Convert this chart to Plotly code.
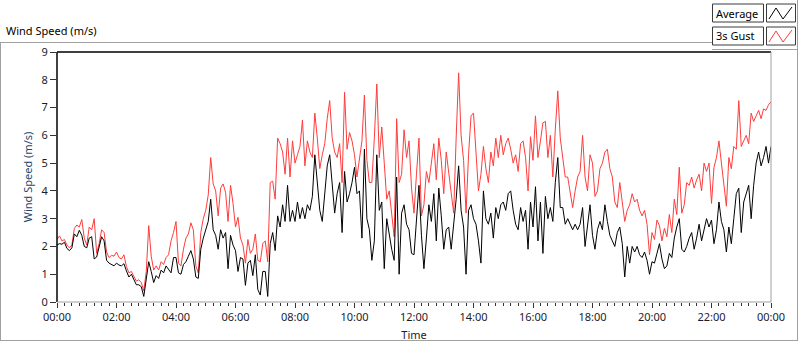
import pandas as pd
import plotly.graph_objects as go

# ---- data (5-minute samples) ----
series_names = ["Average", "3s Gust"]
chart_title = "Wind Speed (m/s)"
x_title = "Time"
y_title = "Wind Speed (m/s)"

average = [
    2.05, 2.1, 2.08, 2.15, 1.93, 1.85, 1.95, 2.45, 2.35, 2.58, 2.4, 2.0,
    1.95, 2.3, 2.35, 1.55, 1.62, 2.0, 2.35, 2.2, 1.5, 1.4, 1.35, 1.3,
    1.4, 1.33, 1.3, 1.38, 1.12, 0.9, 1.0, 0.78, 0.62, 0.62, 0.55, 0.2,
    0.75, 1.45, 1.1, 0.7, 0.95, 0.85, 1.15, 1.05, 1.3, 1.15, 1.05, 1.6,
    1.6, 1.05, 1.0, 1.35, 1.45, 1.65, 1.85, 1.55, 0.9, 0.85, 1.9, 2.3,
    2.6, 2.9, 3.7, 2.6, 2.4, 1.9, 2.6, 2.3, 2.5, 1.2, 2.4, 2.05,
    1.85, 1.1, 1.6, 1.55, 0.6, 1.4, 1.5, 0.95, 1.7, 0.45, 0.25, 1.1,
    1.1, 0.2, 2.1, 2.5, 1.85, 3.1, 2.7, 3.5, 2.9, 4.2, 2.9, 3.3,
    2.9, 3.6, 3.0, 3.4, 3.0, 3.5, 3.3, 3.8, 5.3, 4.2, 3.3, 2.9,
    3.9, 4.9, 5.3, 4.1, 3.2, 3.9, 4.3, 2.5, 4.7, 3.6, 3.9, 4.3,
    4.85, 3.9, 4.0, 2.3, 5.5, 3.0, 2.6, 1.5, 2.2, 5.3, 3.3, 3.6,
    1.2, 3.0, 2.4, 1.9, 1.5, 4.5, 1.0, 3.2, 3.5, 2.8, 2.6, 1.75,
    1.7, 2.9, 4.2, 2.4, 1.2, 2.3, 3.5, 2.9, 3.9, 2.2, 4.1, 3.1,
    1.9, 2.6, 2.7, 1.9, 2.7, 3.7, 4.9, 3.3, 2.7, 1.0, 3.3, 3.5,
    3.0, 2.8, 2.2, 1.4, 4.0, 3.0, 2.8, 3.2, 2.3, 3.4, 3.0, 3.5,
    3.6, 3.3, 3.9, 4.0, 3.3, 2.8, 2.6, 3.4, 2.9, 3.3, 1.9, 3.6,
    2.7, 4.15, 2.2, 3.6, 1.75, 3.8, 3.0, 3.4, 2.9, 4.3, 5.2, 3.4,
    3.4, 2.8, 3.0, 2.8, 2.6, 2.8, 2.6, 2.8, 3.4, 2.0, 2.8, 3.5,
    2.4, 1.9, 2.6, 2.9, 2.6, 3.5, 2.9, 2.4, 2.2, 2.0, 2.5, 2.7,
    2.1, 0.9, 2.0, 1.4, 2.0, 1.8, 2.0, 1.7, 1.6, 1.8, 1.5, 1.0,
    1.45, 1.4, 1.75, 2.1, 1.55, 1.2, 1.3, 1.75, 1.6, 2.3, 2.7, 3.0,
    1.9, 1.8, 2.0, 2.3, 2.5, 1.9, 2.3, 2.8, 2.2, 2.6, 3.0, 2.7,
    2.95, 2.1, 2.6, 3.6, 2.9, 2.6, 1.8, 2.7, 2.1, 3.0, 3.9, 4.1,
    2.5, 3.6, 3.9, 4.2, 3.0, 4.2, 5.0, 5.4, 4.9, 5.2, 5.6, 5.0,
    5.6,
]

gust = [
    2.25, 2.38, 2.2, 2.25, 2.05, 1.95, 2.05, 2.65, 2.77, 2.7, 2.97, 2.3,
    2.05, 2.7, 2.6, 3.0, 1.75, 2.1, 2.6, 2.5, 1.8, 1.6, 1.68, 1.65,
    1.8, 1.6, 1.55, 1.7, 1.28, 1.05, 1.1, 0.95, 0.75, 0.8, 0.7, 0.4,
    1.1, 2.75, 1.65, 1.15, 1.3, 1.15, 1.45, 1.35, 1.6, 1.7, 2.2, 2.5,
    2.9, 1.4, 1.3, 1.9, 2.3, 2.45, 2.85, 2.6, 1.3, 1.05, 2.5, 3.0,
    3.3, 3.85, 5.2, 4.25, 4.0, 3.1, 4.1, 4.25, 3.95, 2.9, 4.2, 3.55,
    2.7, 3.05, 2.3, 2.05, 1.4, 2.25, 1.75, 1.9, 2.45, 1.5, 1.45, 2.1,
    2.2, 1.45, 4.3, 4.35, 3.7, 5.9, 5.7, 5.4, 4.6, 5.9, 4.5, 5.8,
    5.0, 5.3, 5.6, 6.55, 4.9, 5.8, 5.4, 5.2, 6.8, 5.9, 4.8, 5.3,
    5.7, 6.6, 7.25, 5.9, 5.4, 5.2, 5.7, 4.3, 7.55, 5.5, 6.1, 5.8,
    5.3, 4.5, 5.1, 5.8, 7.45, 5.1, 4.3, 4.3, 5.9, 7.85, 5.2, 6.3,
    5.0, 3.7, 4.0, 3.2, 2.35, 6.6, 4.3, 4.6, 6.2, 5.2, 5.8, 4.1,
    3.2, 4.6, 5.9, 3.1, 3.5, 4.7, 4.3, 5.0, 5.7, 4.4, 5.9, 5.1,
    3.9, 5.4, 4.6, 3.8, 3.2, 5.9, 8.25, 6.0, 5.1, 3.2, 5.3, 6.7,
    6.8, 5.4, 4.0, 4.6, 5.6, 4.8, 4.3, 5.4, 4.9, 5.9, 5.2, 6.0,
    5.3, 5.7, 5.9, 5.5, 5.0, 5.3, 4.7, 5.7, 5.8, 5.2, 4.0, 5.95,
    5.1, 6.7, 5.2, 5.8, 6.45, 6.5, 5.2, 6.0, 4.5, 6.2, 7.6, 5.9,
    5.2, 4.5, 4.5, 3.9, 3.4, 4.0, 4.5, 4.7, 6.0, 4.5, 4.0, 5.3,
    5.0, 3.8, 4.0, 4.8, 5.0, 5.4, 5.5, 4.8, 4.5, 3.6, 3.4, 4.3,
    3.6, 2.9, 3.3, 3.5, 3.9, 3.6, 3.7, 3.3, 3.1, 3.3, 2.8, 1.7,
    2.5, 2.25, 2.95, 2.75, 2.2, 2.65, 2.35, 3.15, 2.5, 3.7, 3.15, 4.85,
    3.2, 3.5, 4.3, 4.2, 4.5, 4.1, 4.4, 4.6, 4.0, 5.0, 4.7, 5.0,
    3.55, 4.85, 5.2, 5.8, 5.0, 4.2, 3.45, 5.2, 4.8, 5.6, 5.5, 7.25,
    5.6, 5.8, 6.0, 5.7, 6.8, 6.5, 6.7, 6.9, 6.6, 6.95, 6.9, 7.1,
    7.2,
]

start = pd.Timestamp("2024-01-01 00:00")
times = pd.date_range(start, periods=len(average), freq="5min")
end = start + pd.Timedelta(hours=24)

series_colors = ["#000000", "#ff3c3c"]

# ---- figure geometry (pixels) ----
W, H = 800, 342
L, R, T, B = 57, 29, 52, 40
PW, PH = W - L - R, H - T - B


def px(x):
    return (x - L) / PW


def py(y):
    return (H - B - y) / PH


fig = go.Figure()
fig.add_trace(go.Scatter(x=times, y=gust, mode="lines", name=series_names[1],
                         line=dict(color=series_colors[1], width=1), showlegend=False))
fig.add_trace(go.Scatter(x=times, y=average, mode="lines", name=series_names[0],
                         line=dict(color=series_colors[0], width=1), showlegend=False))

font_family = "Noto Sans"
tick_color = "#1b1b2e"
frame_gray = "#a0a0a0"

fig.update_layout(
    width=W, height=H,
    margin=dict(l=L, r=R, t=T, b=B, autoexpand=False),
    paper_bgcolor="white", plot_bgcolor="white",
    font=dict(family=font_family, size=11, color=tick_color),
    xaxis=dict(
        type="date", range=[start, end], tick0=start, dtick=7200000,
        tickformat="%H:%M", ticks="outside", ticklen=5, tickcolor="#333333",
        showgrid=False, zeroline=False, showline=False,
        minor=dict(dtick=900000, ticks="outside", ticklen=3, tickcolor="#333333", showgrid=False),
        title=dict(text=x_title, standoff=8, font=dict(size=11, color="#1b1b2e")),
        automargin=False,
    ),
    yaxis=dict(
        range=[0, 9], dtick=1, ticks="outside", ticklen=6, tickcolor="#333333",
        showgrid=False, zeroline=False, showline=False,
        title=dict(text=y_title, standoff=6, font=dict(size=11, color="#24466e")),
        automargin=False,
    ),
)

shapes = []


def line(x0, y0, x1, y1, color, width=1):
    shapes.append(dict(type="line", xref="paper", yref="paper",
                       x0=px(x0), y0=py(y0), x1=px(x1), y1=py(y1),
                       line=dict(color=color, width=width)))


def rect(x0, y0, x1, y1, color, width=1):
    shapes.append(dict(type="rect", xref="paper", yref="paper",
                       x0=px(x0), y0=py(y0), x1=px(x1), y1=py(y1),
                       line=dict(color=color, width=width), fillcolor="white"))


# outer panel frame
line(0, 42.5, 712, 42.5, frame_gray)
line(0.5, 42.5, 0.5, 341, frame_gray)
line(0, 340.5, 797, 340.5, frame_gray)
line(797.5, 0, 797.5, 341, frame_gray)
line(712, 49.5, 798, 49.5, frame_gray)

# plot-area frame: dark top/left, grey bottom/right
line(L, T, L + PW, T, "#000000", 1.5)
line(L, T, L, H - B, "#000000", 1.5)
line(L + PW, T, L + PW, H - B, frame_gray)
line(L, H - B, L + PW, H - B, frame_gray)

# legend boxes
legend_rows = [(4, 22), (27, 45)]
annotations = []
for i, (y0, y1) in enumerate(legend_rows):
    rect(712.5, y0, 763.5, y1, "#3a3a3a")
    rect(766.5, y0, 795.5, y1, "#3a3a3a")
    pts = [(769, y1 - 3), (776, y0 + 4), (783, y1 - 3), (792, y0 + 3)]
    path = "M " + " L ".join(f"{px(a)},{py(b)}" for a, b in pts)
    shapes.append(dict(type="path", xref="paper", yref="paper", path=path,
                       line=dict(color=series_colors[i], width=1)))
    annotations.append(dict(xref="paper", yref="paper", x=px(714), y=py((y0 + y1) / 2),
                            xanchor="left", yanchor="middle", showarrow=False,
                            text=series_names[i], font=dict(size=11, color="#000000")))

annotations.append(dict(xref="paper", yref="paper", x=px(4), y=py(31),
                        xanchor="left", yanchor="middle", showarrow=False,
                        text=chart_title, font=dict(size=11, color="#000000")))

fig.update_layout(shapes=shapes, annotations=annotations)

fig.write_html("out.html", config={"displayModeBar": False},
               post_script="document.body.style.margin='0';document.body.style.overflow='hidden';")
